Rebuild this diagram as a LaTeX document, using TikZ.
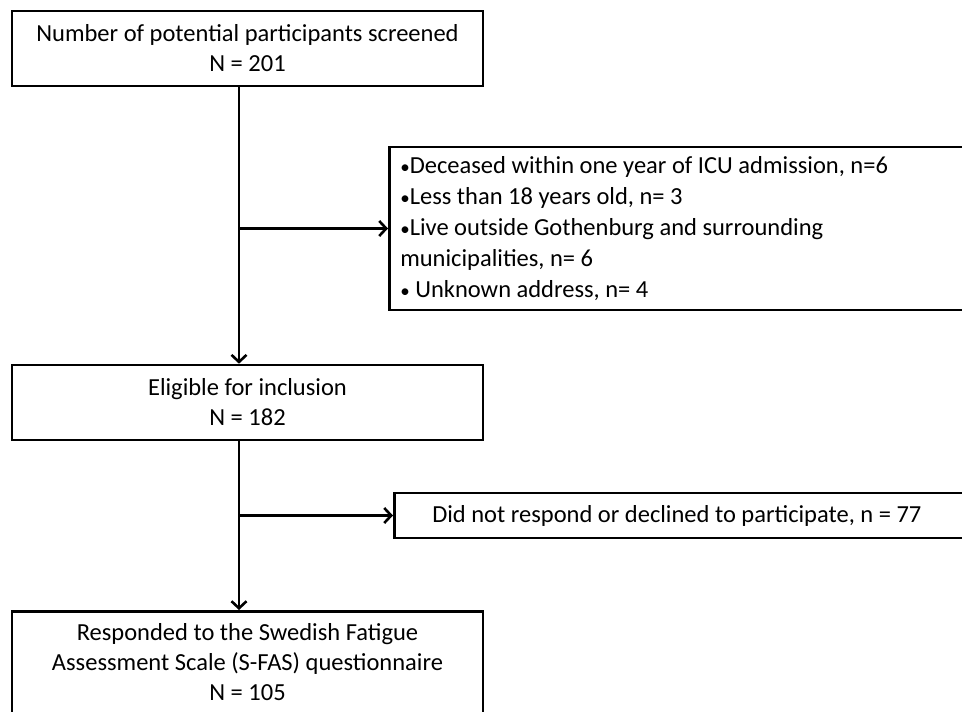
\documentclass[tikz,border=0pt]{standalone}
\usepackage{fontspec}
\setmainfont{Carlito}
\usetikzlibrary{arrows.meta}

\newcommand{\smbullet}{{\fontsize{19}{31}\selectfont\textbullet}}

\tikzset{
  flowbox/.style={draw, line width=2.6pt, inner sep=0pt, align=center,
    font=\fontsize{24.5}{30}\selectfont},
  flowarrow/.style={line width=2.6pt, -{Straight Barb[length=7pt,width=15pt]}}
}

\begin{document}
\begin{tikzpicture}[x=1pt,y=-1pt]
  \useasboundingbox (0,0) rectangle (962,712);
  % boxes down the left side
  \node[flowbox, minimum width=471pt, minimum height=75pt] (screened) at (247.5,48.5)
    {Number of potential participants screened\\N = 201};
  \node[flowbox, minimum width=471pt, minimum height=75pt] (eligible) at (247.5,402.5)
    {Eligible for inclusion\\N = 182};
  \node[flowbox, anchor=north, minimum width=471pt, inner ysep=12pt, text depth=40pt]
    (responded) at (247.5,610)
    {Responded to the Swedish Fatigue\\Assessment Scale (S-FAS) questionnaire\\N = 105};
  % exclusions on the right (cut off by the page edge)
  \node[flowbox, anchor=west, align=flush left, text width=580pt, inner xsep=11pt,
    minimum height=163pt, font=\fontsize{24.5}{31}\selectfont] (excluded) at (388,228.5)
    {\smbullet Deceased within one year of ICU admission, n=6\\
     \smbullet Less than 18 years old, n= 3\\
     \smbullet Live outside Gothenburg and surrounding\\
     municipalities, n= 6\\
     \smbullet{} Unknown address, n= 4};
  \node[flowbox, anchor=west, align=flush left, text width=560pt, inner xsep=38pt,
    minimum height=45pt] (declined) at (393,515.5)
    {Did not respond or declined to participate, n = 77};
  % connectors
  \coordinate (spine) at (239,0);
  \draw[flowarrow] (screened.south -| spine) -- (eligible.north -| spine);
  \draw[flowarrow] (spine |- excluded.west) -- (excluded.west);
  \draw[flowarrow] (eligible.south -| spine) -- (responded.north -| spine);
  \draw[flowarrow] (spine |- declined.west) -- (declined.west);
\end{tikzpicture}
\end{document}
